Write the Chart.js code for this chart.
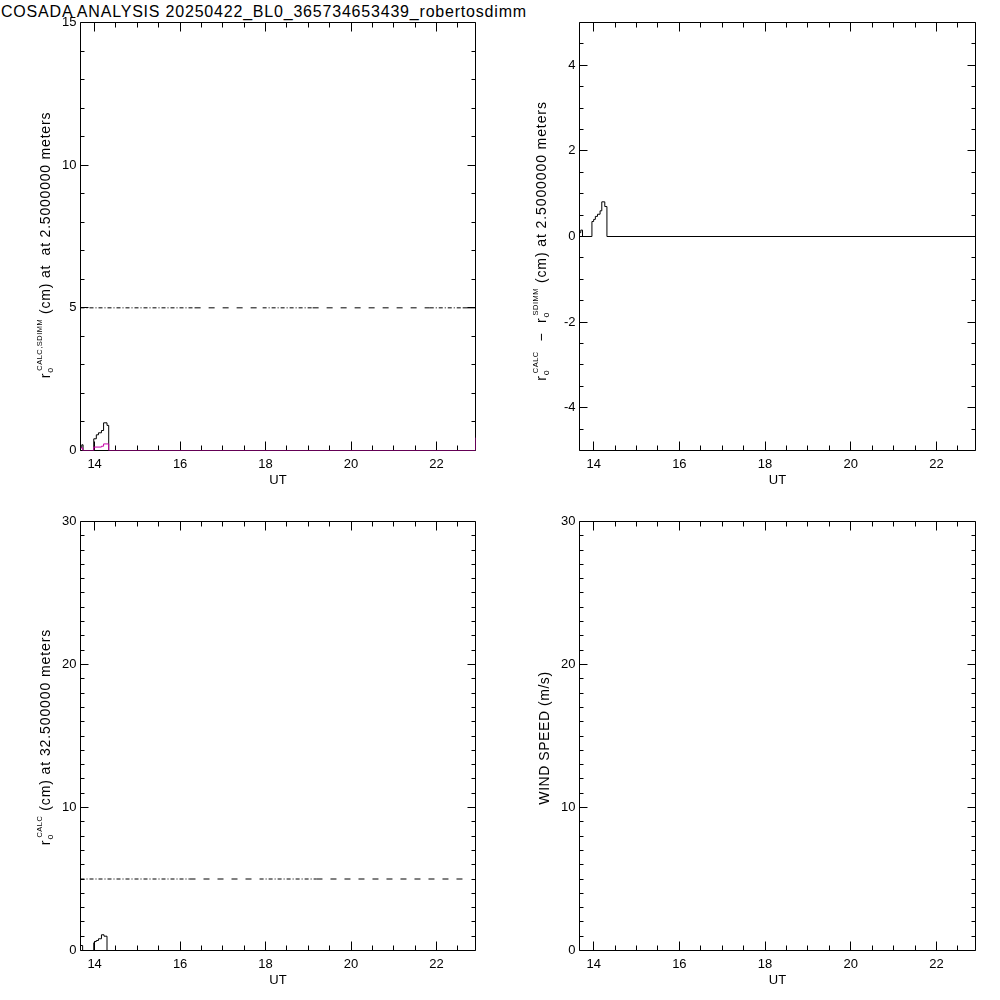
<!DOCTYPE html>
<html>
<head>
<meta charset="utf-8">
<script src="https://cdn.jsdelivr.net/npm/chart.js@4.4.1/dist/chart.umd.min.js"></script>
<style>
  html, body { margin: 0; padding: 0; background: #fff; }
  #wrap { position: relative; width: 1000px; height: 1000px; overflow: hidden; background: #fff;
          font-family: "Liberation Sans", Arial, sans-serif; color: #000; }
  canvas { position: absolute; }
  .title { position: absolute; left: 1px; top: 2px; font-size: 16px; letter-spacing: 0.8px; white-space: nowrap; line-height: 20px; }
  .ylab { position: absolute; white-space: nowrap; font-size: 14px; letter-spacing: 0.9px; line-height: 16px;
          transform: translate(-50%, -50%) rotate(-90deg); }
  .ylab sub { font-size: 9px; vertical-align: -3px; letter-spacing: 0; }
  .ylab sup { font-size: 7.5px; vertical-align: 8px; margin-left: -3px; letter-spacing: 0.5px; }
</style>
</head>
<body>
<div id="wrap">
  <div class="title">COSADA ANALYSIS 20250422_BL0_365734653439_robertosdimm</div>
  <canvas id="c1" width="500" height="500" style="left:0;top:0"></canvas>
  <canvas id="c2" width="500" height="500" style="left:500px;top:0"></canvas>
  <canvas id="c3" width="500" height="500" style="left:0;top:500px"></canvas>
  <canvas id="c4" width="500" height="500" style="left:500px;top:500px"></canvas>
  <div class="ylab" style="left:45px;top:245px;letter-spacing:0.8px">r<sub>o</sub><sup>CALC,SDIMM</sup> (cm) at&nbsp; at 2.5000000 meters</div>
  <div class="ylab" style="left:541px;top:241px">r<sub>o</sub><sup>CALC</sup> &nbsp;&minus;&nbsp; r<sub>o</sub><sup>SDIMM</sup> (cm) at 2.5000000 meters</div>
  <div class="ylab" style="left:45px;top:737px">r<sub>o</sub><sup>CALC</sup> (cm) at 32.500000 meters</div>
  <div class="ylab" style="left:544px;top:738px;letter-spacing:0.55px">WIND SPEED (m/s)</div>
</div>
<script>
// ---------------- DATA ----------------
const utMin = 13.67;
const utMax = 22.91;
const utLabelTicks = [14, 16, 18, 20, 22];

const r0AxisLabels = [0, 5, 10, 15];
const diffAxisLabels = [-4, -2, 0, 2, 4];
const r0HighAxisLabels = [0, 10, 20, 30];
const windAxisLabels = [0, 10, 20, 30];

// r0 CALC at 2.5 m (black, histogram steps)
const calcTimes  = [13.67, 13.70, 13.73, 13.98, 14.04, 14.09, 14.16, 14.21, 14.29, 14.33, 22.91];
const calcValues = [0.10,  0.20,  0.00,  0.41,  0.55,  0.62,  0.70,  0.97,  0.88,  0.00,  0.00];

// r0 SDIMM at 2.5 m (magenta, histogram steps)
const sdimmTimes  = [13.67, 13.72, 13.98, 14.16, 14.21, 14.33, 22.90, 22.91];
const sdimmValues = [0.09,  0.00,  0.12,  0.15,  0.23,  0.00,  0.00,  0.45];

// r0 CALC - r0 SDIMM at 2.5 m
const diffTimes  = [13.67, 13.70, 13.74, 13.96, 14.00, 14.04, 14.09, 14.15, 14.19, 14.26, 14.31, 22.91];
const diffValues = [0.09,  0.15,  0.00,  0.35,  0.40,  0.47,  0.52,  0.60,  0.81,  0.70,  0.00,  0.00];

// r0 CALC at 32.5 m
const calc32Times  = [13.67, 13.72, 13.98, 14.00, 14.04, 14.09, 14.16, 14.22, 14.29, 14.33];
const calc32Values = [0.35,  0.00,  0.54,  0.63,  0.70,  0.82,  1.10,  1.00,  0.00,  0.00];

// 5 cm reference level, 2.5 m panel
const refTimes  = [13.67, 16.34, 17.93, 19.10, 21.84, 22.61, 22.91];
const refValues = [5, 5, 5, 5, 5, 5, 5];
// 5 cm reference level, 32.5 m panel
const ref32Times  = [13.67, 16.22, 17.86, 19.19, 22.61];
const ref32Values = [5, 5, 5, 5, 5];

// wind speed (no data)
const windTimes  = [];
const windValues = [];

// ---------------- STYLES ----------------
const DENSE = [4, 2, 1, 2];
const DASH  = [6, 8];
const SOLID = [];
const refDashes   = [DENSE, DASH, DENSE, DASH, DENSE, SOLID];
const ref32Dashes = [DENSE, DASH, DENSE, DASH];
const MAGENTA = 'rgb(200,0,170)';
const FONT = '"Liberation Sans", Arial, sans-serif';

function pts(xs, ys) { return xs.map((x, i) => ({ x: x, y: ys[i] })); }
function half(p) { return Math.round(p - 0.5) + 0.5; }

const idlFrame = {
  id: 'idlFrame',
  beforeDatasetsDraw(chart, args, opts) {
    const ctx = chart.ctx, a = chart.chartArea;
    const xs = chart.scales.x, ys = chart.scales.y;
    const L = half(a.left), R = half(a.right), T = half(a.top), B = half(a.bottom);
    ctx.save();
    ctx.strokeStyle = '#000';
    ctx.lineWidth = 1;
    ctx.beginPath();
    ctx.rect(L, T, R - L, B - T);
    xs.ticks.forEach(t => {
      const p = half(xs.getPixelForValue(t.value));
      const len = utLabelTicks.includes(t.value) ? 9 : 5;
      ctx.moveTo(p, B); ctx.lineTo(p, B - len);
      ctx.moveTo(p, T); ctx.lineTo(p, T + len);
    });
    ys.ticks.forEach(t => {
      const p = half(ys.getPixelForValue(t.value));
      const len = opts.yLabels.includes(t.value) ? 8 : 4;
      ctx.moveTo(L, p); ctx.lineTo(L + len, p);
      ctx.moveTo(R, p); ctx.lineTo(R - len, p);
    });
    ctx.stroke();
    ctx.restore();
  }
};

function makePanel(id, yMin, yMax, yStep, yLabels, yWidth, topPad, datasets) {
  return new Chart(document.getElementById(id), {
    type: 'line',
    data: { datasets: datasets },
    plugins: [idlFrame],
    options: {
      responsive: false,
      animation: false,
      events: [],
      layout: { autoPadding: false, padding: { left: 0, top: topPad, right: 24.5, bottom: 0 } },
      plugins: { legend: { display: false }, tooltip: { enabled: false }, idlFrame: { yLabels: yLabels } },
      elements: { point: { radius: 0 }, line: { borderWidth: 1, tension: 0 } },
      scales: {
        x: {
          type: 'linear', min: utMin, max: utMax,
          grid: { display: false, drawTicks: false, tickLength: 0 },
          border: { display: false },
          afterFit: s => { s.height = 49.5; },
          ticks: {
            stepSize: 0.5, includeBounds: false, autoSkip: false, maxRotation: 0, padding: 6,
            color: '#000', font: { family: FONT, size: 13 },
            callback: v => utLabelTicks.includes(v) ? String(v) : ''
          },
          title: { display: true, text: 'UT', color: '#000', font: { family: FONT, size: 13 }, padding: { top: 0, bottom: 12 } }
        },
        y: {
          type: 'linear', min: yMin, max: yMax,
          grid: { display: false, drawTicks: false, tickLength: 0 },
          border: { display: false },
          afterFit: s => { s.width = yWidth; },
          ticks: {
            stepSize: yStep, includeBounds: false, autoSkip: false, padding: 4,
            color: '#000', font: { family: FONT, size: 13 },
            callback: v => yLabels.includes(v) ? String(v) : ''
          }
        }
      }
    }
  });
}

// order: lower value is drawn on top
function stepSet(xs, ys, color, order) {
  return { data: pts(xs, ys), borderColor: color, stepped: 'before', borderWidth: 1, fill: false, order: order };
}
function refSet(xs, ys, dashes, order) {
  return {
    data: pts(xs, ys), borderColor: '#000', borderWidth: 1, fill: false, order: order,
    segment: { borderDash: ctx => dashes[ctx.p0DataIndex] || SOLID }
  };
}

makePanel('c1', 0, 15, 1, r0AxisLabels, 80.5, 22.5, [
  refSet(refTimes, refValues, refDashes, 3),
  stepSet(calcTimes, calcValues, '#000', 2),
  stepSet(sdimmTimes, sdimmValues, MAGENTA, 1)
]);
makePanel('c2', -5, 5, 0.5, diffAxisLabels, 79.5, 22.5, [
  stepSet(diffTimes, diffValues, '#000', 1)
]);
makePanel('c3', 0, 30, 1, r0HighAxisLabels, 80.5, 21.5, [
  refSet(ref32Times, ref32Values, ref32Dashes, 2),
  stepSet(calc32Times, calc32Values, '#000', 1)
]);
makePanel('c4', 0, 30, 1, windAxisLabels, 79.5, 21.5, [
  stepSet(windTimes, windValues, '#000', 1)
]);
</script>
</body>
</html>
